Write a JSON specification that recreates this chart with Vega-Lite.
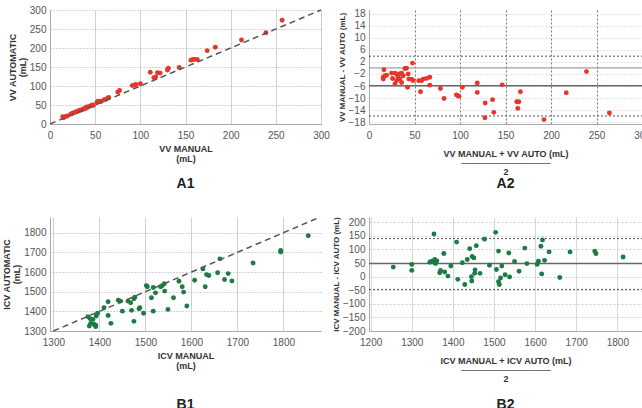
{
  "$schema": "https://vega.github.io/schema/vega-lite/v6.json",
  "padding": {"left": 2, "top": 5, "right": 0, "bottom": 0},
  "columns": 2,
  "bounds": "flush",
  "spacing": {"row": 93, "column": 48},
  "config": {
    "font": "Liberation Sans",
    "view": {"stroke": null},
    "axis": {
      "labelFontSize": 10, "labelColor": "#555", "ticks": false, "labelPadding": 6,
      "labelOverlap": false, "labelFlush": false,
      "domainColor": "#aaa", "titleFontSize": 9, "titleColor": "#333", "titleFontWeight": "bold",
      "titleLineHeight": 10, "titlePadding": 4, "gridColor": "#cfcfcf", "format": "d"
    },
    "axisY": {"labelPadding": 4, "titlePadding": 2},
    "title": {"fontSize": 14, "fontWeight": "bold", "color": "#222", "orient": "bottom", "anchor": "middle", "offset": 12}
  },
  "datasets": {
    "vv": [
      {"manual":14,"auto":19},{"manual":15,"auto":17},{"manual":16,"auto":18},{"manual":17,"auto":20},{"manual":19,"auto":21},
      {"manual":23,"auto":26},{"manual":24,"auto":27},{"manual":25,"auto":28},{"manual":26,"auto":30},{"manual":28,"auto":31},
      {"manual":29,"auto":32},{"manual":30,"auto":33},{"manual":31,"auto":34},{"manual":32,"auto":35},{"manual":33,"auto":36},
      {"manual":35,"auto":37},{"manual":36,"auto":38},{"manual":38,"auto":41},{"manual":39,"auto":40},{"manual":40,"auto":44},
      {"manual":41,"auto":45},{"manual":42,"auto":44},{"manual":44,"auto":47},{"manual":46,"auto":49},{"manual":47,"auto":50},
      {"manual":48,"auto":49},{"manual":52,"auto":57},{"manual":53,"auto":60},{"manual":55,"auto":59},{"manual":57,"auto":60},
      {"manual":60,"auto":64},{"manual":62,"auto":65},{"manual":64,"auto":68},{"manual":65,"auto":70},{"manual":75,"auto":84},
      {"manual":77,"auto":88},{"manual":91,"auto":101},{"manual":93,"auto":102},{"manual":95,"auto":104},{"manual":100,"auto":106},
      {"manual":111,"auto":136},{"manual":115,"auto":122},{"manual":117,"auto":124},{"manual":119,"auto":135},{"manual":122,"auto":134},
      {"manual":130,"auto":142},{"manual":131,"auto":147},{"manual":143,"auto":149},{"manual":156,"auto":168},{"manual":158,"auto":170},
      {"manual":160,"auto":170},{"manual":163,"auto":170},{"manual":174,"auto":193},{"manual":183,"auto":202},{"manual":212,"auto":221},
      {"manual":239,"auto":240},{"manual":257,"auto":273}
    ],
    "vvba": [
      {"mean":16.4,"diff":-0.6},{"mean":15.7,"diff":-3.1},{"mean":17.5,"diff":-2.6},{"mean":19.3,"diff":-2.4},{"mean":15.7,"diff":-3.7},
      {"mean":24.8,"diff":-1.7},{"mean":25.9,"diff":-3.5},{"mean":28.5,"diff":-1.7},{"mean":28.5,"diff":-5.3},{"mean":30.3,"diff":-4.2},
      {"mean":31.4,"diff":-2.4},{"mean":32.1,"diff":-3.1},{"mean":33.2,"diff":-2.0},{"mean":33.9,"diff":-3.7},{"mean":35.8,"diff":-1.7},
      {"mean":37.6,"diff":-2.6},{"mean":35.8,"diff":-4.8},{"mean":39.4,"diff":-0.2},{"mean":41.2,"diff":-0.1},{"mean":43,"diff":-2},
      {"mean":43.8,"diff":-3.7},{"mean":42.3,"diff":-6.4},{"mean":46.7,"diff":-3.7},{"mean":48.5,"diff":-4.2},{"mean":47.8,"diff":1.6},
      {"mean":54.7,"diff":-4.2},{"mean":56.6,"diff":-7.9},{"mean":57.7,"diff":-4.2},{"mean":59.5,"diff":-3.7},{"mean":63.1,"diff":-3.5},
      {"mean":66.8,"diff":-3.1},{"mean":66.8,"diff":-5.7},{"mean":78.5,"diff":-6.8},{"mean":82.5,"diff":-10.1},{"mean":96,"diff":-8.9},
      {"mean":97.8,"diff":-9.2},{"mean":98.9,"diff":-9.4},{"mean":102.6,"diff":-6.4},{"mean":119,"diff":-5},{"mean":119,"diff":-8.1},
      {"mean":127.7,"diff":-11.6},{"mean":127.4,"diff":-16.5},{"mean":135.8,"diff":-10.5},{"mean":137.2,"diff":-14.7},{"mean":146.4,"diff":-5.6},
      {"mean":162.4,"diff":-11.2},{"mean":164.6,"diff":-11.2},{"mean":163.5,"diff":-13.4},{"mean":166.4,"diff":-7.9},{"mean":192.3,"diff":-17.1},
      {"mean":216.8,"diff":-8.2},{"mean":239,"diff":-1.2},{"mean":264.2,"diff":-14.9}
    ],
    "icv": [
      {"manual":1375,"auto":1373},{"manual":1378,"auto":1325},{"manual":1381,"auto":1339},{"manual":1380,"auto":1362},{"manual":1386,"auto":1359},
      {"manual":1388,"auto":1334},{"manual":1392,"auto":1322},{"manual":1393,"auto":1376},{"manual":1396,"auto":1390},{"manual":1392,"auto":1329},
      {"manual":1419,"auto":1379},{"manual":1419,"auto":1449},{"manual":1410,"auto":1418},{"manual":1425,"auto":1339},{"manual":1441,"auto":1457},
      {"manual":1446,"auto":1452},{"manual":1450,"auto":1401},{"manual":1462,"auto":1452},{"manual":1468,"auto":1444},{"manual":1470,"auto":1405},
      {"manual":1475,"auto":1464},{"manual":1477,"auto":1472},{"manual":1475,"auto":1349},{"manual":1486,"auto":1413},{"manual":1488,"auto":1418},
      {"manual":1496,"auto":1390},{"manual":1502,"auto":1531},{"manual":1504,"auto":1525},{"manual":1513,"auto":1469},{"manual":1517,"auto":1521},
      {"manual":1517,"auto":1401},{"manual":1522,"auto":1494},{"manual":1533,"auto":1525},{"manual":1537,"auto":1531},{"manual":1541,"auto":1541},
      {"manual":1542,"auto":1503},{"manual":1549,"auto":1410},{"manual":1561,"auto":1469},{"manual":1573,"auto":1553},{"manual":1580,"auto":1525},
      {"manual":1583,"auto":1498},{"manual":1590,"auto":1427},{"manual":1607,"auto":1558},{"manual":1625,"auto":1616},{"manual":1630,"auto":1525},
      {"manual":1633,"auto":1587},{"manual":1638,"auto":1582},{"manual":1657,"auto":1596},{"manual":1662,"auto":1667},{"manual":1672,"auto":1562},
      {"manual":1680,"auto":1592},{"manual":1688,"auto":1555},{"manual":1734,"auto":1646},{"manual":1794,"auto":1710},{"manual":1794,"auto":1702},
      {"manual":1854,"auto":1785}
    ],
    "icvba": [
      {"mean":1255,"diff":35},{"mean":1300,"diff":45},{"mean":1300,"diff":23},{"mean":1344,"diff":53},{"mean":1348,"diff":57},
      {"mean":1354,"diff":157},{"mean":1354,"diff":53},{"mean":1356,"diff":63},{"mean":1358,"diff":48},{"mean":1361,"diff":58},
      {"mean":1354,"diff":59},{"mean":1368,"diff":14},{"mean":1370,"diff":23},{"mean":1378,"diff":85},{"mean":1380,"diff":17},
      {"mean":1388,"diff":2},{"mean":1395,"diff":39},{"mean":1409,"diff":127},{"mean":1412,"diff":-10},{"mean":1423,"diff":51},
      {"mean":1429,"diff":-29},{"mean":1435,"diff":63},{"mean":1441,"diff":103},{"mean":1445,"diff":0},{"mean":1446,"diff":-16},
      {"mean":1447,"diff":74},{"mean":1451,"diff":69},{"mean":1453,"diff":12},{"mean":1454,"diff":25},{"mean":1457,"diff":114},
      {"mean":1466,"diff":12},{"mean":1477,"diff":138},{"mean":1489,"diff":42},{"mean":1504,"diff":163},{"mean":1506,"diff":26},
      {"mean":1511,"diff":94},{"mean":1511,"diff":-19},{"mean":1513,"diff":-29},{"mean":1516,"diff":-5},{"mean":1519,"diff":39},
      {"mean":1527,"diff":7},{"mean":1536,"diff":87},{"mean":1538,"diff":-1},{"mean":1550,"diff":56},{"mean":1561,"diff":20},
      {"mean":1575,"diff":105},{"mean":1580,"diff":48},{"mean":1605,"diff":45},{"mean":1608,"diff":57},{"mean":1614,"diff":112},
      {"mean":1618,"diff":135},{"mean":1616,"diff":10},{"mean":1623,"diff":60},{"mean":1634,"diff":91},{"mean":1660,"diff":-3},
      {"mean":1685,"diff":91},{"mean":1745,"diff":94},{"mean":1748,"diff":85},{"mean":1814,"diff":72}
    ]
  },
  "concat": [
    {
      "width": 271, "height": 114,
      "title": {"text": "A1", "offset": 14},
      "encoding": {
        "x": {"field": "manual", "type": "quantitative", "scale": {"domain": [0, 300], "nice": false},
              "axis": {"values": [0,50,100,150,200,250,300], "labelOverlap": false, "title": ["VV MANUAL", "(mL)"], "gridColor": "#d0d0d0"}},
        "y": {"field": "auto", "type": "quantitative", "scale": {"domain": [0, 300], "nice": false},
              "axis": {"values": [0,50,100,150,200,250,300], "labelOverlap": false, "title": ["VV AUTOMATIC", "(mL)"], "gridDash": [1,2], "gridColor": "#aaa"}}
      },
      "layer": [
        {
          "data": {"name": "vv"},
          "mark": {"type": "circle", "color": "#e8352b", "opacity": 1, "size": 24}
        },
        {
          "data": {"values": [{"manual": 0, "auto": 0, "manual2": 300, "auto2": 300}]},
          "mark": {"type": "rule", "color": "#555", "strokeDash": [6,4], "strokeWidth": 1.5},
          "encoding": {"x2": {"field": "manual2"}, "y2": {"field": "auto2"}}
        }
      ]
    },
    {
      "width": 273, "height": 114,
      "title": {"text": "A2", "offset": 1},
      "encoding": {
        "x": {"field": "mean", "type": "quantitative", "scale": {"domain": [0, 300], "nice": false},
              "axis": {"values": [0,50,100,150,200,250,300], "labelOverlap": false, "title": ["VV MANUAL + VV AUTO  (mL)", "──────────────", "2"], "gridDash": [2,2], "gridColor": "#777", "titleLineHeight": 9, "titlePadding": 9}},
        "y": {"field": "diff", "type": "quantitative", "scale": {"domain": [-18.56, 19.19], "nice": false, "zero": false},
              "axis": {"values": [-18,-14,-10,-6,-2,2,6,10,14,18], "labelOverlap": false, "title": "VV MANUAL - VV AUTO (mL)", "titleFontSize": 8, "gridDash": [1,2], "gridColor": "#ccc"}}
      },
      "layer": [
        {
          "data": {"values": [{"mean": 0, "mean2": 300, "diff": 0}]},
          "mark": {"type": "rule", "color": "#888", "strokeWidth": 1},
          "encoding": {"x2": {"field": "mean2"}}
        },
        {
          "data": {"values": [{"mean": 0, "mean2": 300, "diff": -5.9}]},
          "mark": {"type": "rule", "color": "#666", "strokeWidth": 1.5},
          "encoding": {"x2": {"field": "mean2"}}
        },
        {
          "data": {"values": [{"mean": 0, "mean2": 300, "diff": 3.9}, {"mean": 0, "mean2": 300, "diff": -15.9}]},
          "mark": {"type": "rule", "color": "#555", "strokeWidth": 1, "strokeDash": [2,2]},
          "encoding": {"x2": {"field": "mean2"}}
        },
        {
          "data": {"name": "vvba"},
          "mark": {"type": "circle", "color": "#e8352b", "opacity": 1, "size": 24}
        }
      ]
    },
    {
      "width": 271, "height": 114,
      "title": {"text": "B1", "offset": 28},
      "encoding": {
        "x": {"field": "manual", "type": "quantitative", "scale": {"domain": [1292.6, 1881.7], "nice": false, "zero": false},
              "axis": {"values": [1300,1400,1500,1600,1700,1800], "labelOverlap": false, "title": ["ICV MANUAL", "(mL)"], "gridColor": "#d0d0d0"}},
        "y": {"field": "auto", "type": "quantitative", "scale": {"domain": [1300, 1880], "nice": false, "zero": false},
              "axis": {"values": [1300,1400,1500,1600,1700,1800], "labelOverlap": false, "title": ["ICV AUTOMATIC", "(mL)"], "gridDash": [1,2], "gridColor": "#aaa"}}
      },
      "layer": [
        {
          "data": {"name": "icv"},
          "mark": {"type": "circle", "color": "#1c7a44", "opacity": 1, "size": 24}
        },
        {
          "data": {"values": [{"manual": 1300, "auto": 1300, "manual2": 1880, "auto2": 1880}]},
          "mark": {"type": "rule", "color": "#555", "strokeDash": [6,4], "strokeWidth": 1.5},
          "encoding": {"x2": {"field": "manual2"}, "y2": {"field": "auto2"}}
        }
      ]
    },
    {
      "width": 273, "height": 114,
      "title": {"text": "B2", "offset": 15},
      "encoding": {
        "x": {"field": "mean", "type": "quantitative", "scale": {"domain": [1196, 1860], "nice": false, "zero": false},
              "axis": {"values": [1200,1300,1400,1500,1600,1700,1800], "labelOverlap": false, "title": ["ICV MANUAL + ICV AUTO (mL)", "──────────────", "2"], "gridColor": "#d8d8d8", "titleLineHeight": 9, "titlePadding": 9}},
        "y": {"field": "diff", "type": "quantitative", "scale": {"domain": [-200, 219.4], "nice": false, "zero": false},
              "axis": {"values": [-200,-150,-100,-50,0,50,100,150,200], "labelOverlap": false, "title": "ICV MANUAL - ICV AUTO (mL)", "titleFontSize": 8, "gridDash": [2,2], "gridColor": "#ccc"}}
      },
      "layer": [
        {
          "data": {"values": [{"mean": 1196, "mean2": 1860, "diff": 48}]},
          "mark": {"type": "rule", "color": "#666", "strokeWidth": 1.5},
          "encoding": {"x2": {"field": "mean2"}}
        },
        {
          "data": {"values": [{"mean": 1196, "mean2": 1860, "diff": 140}, {"mean": 1196, "mean2": 1860, "diff": -47}]},
          "mark": {"type": "rule", "color": "#555", "strokeWidth": 1, "strokeDash": [2,2]},
          "encoding": {"x2": {"field": "mean2"}}
        },
        {
          "data": {"name": "icvba"},
          "mark": {"type": "circle", "color": "#1c7a44", "opacity": 1, "size": 24}
        }
      ]
    }
  ]
}
